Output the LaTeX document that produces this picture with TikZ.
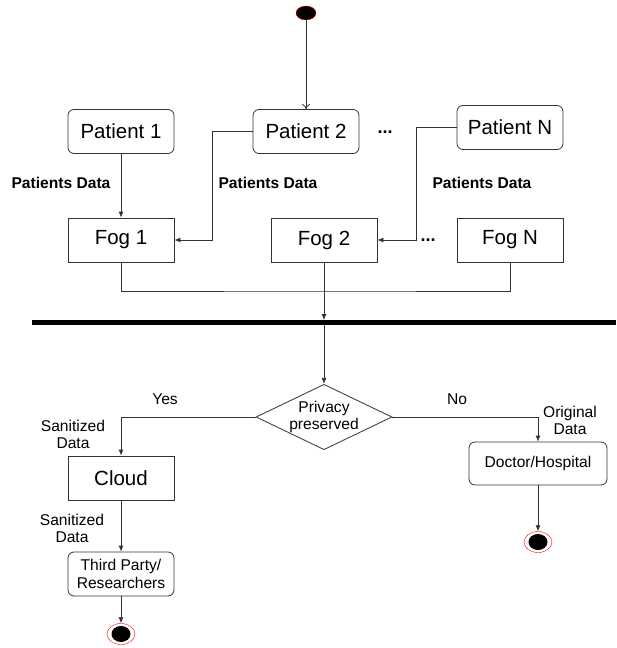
\documentclass[tikz,border=0pt]{standalone}
\usepackage{fontspec}
\setmainfont{Liberation Sans}
\usetikzlibrary{arrows.meta,shapes.geometric,calc}
\definecolor{linegray}{HTML}{333333}
\begin{document}
\begin{tikzpicture}[x=1pt,y=-1pt,
	box/.style={rectangle,draw=linegray,line width=0.8pt,minimum width=106pt,minimum height=44pt,inner sep=2pt,
		align=center,font=\fontsize{20.5}{24}\selectfont},
	rbox/.style={box,rounded corners=6pt},
	sbox/.style={rbox,font=\fontsize{15.6}{18.5}\selectfont},
	lbl/.style={align=center,inner sep=0pt,font=\fontsize{15.6}{17}\selectfont},
	blbl/.style={lbl,font=\fontsize{15.6}{17}\selectfont\bfseries},
	startstate/.style={ellipse,draw=red,fill=black,minimum width=20pt,minimum height=14pt,inner sep=0pt},
	endstate/.style={ellipse,draw=red,fill=white,minimum width=28pt,minimum height=21pt,inner sep=0pt,
		path picture={\fill[black] (path picture bounding box.center) ellipse (9.5pt and 8pt);}},
	flow/.style={draw=linegray,line width=0.8pt,-{Latex[length=6pt,width=5pt]}},
	line/.style={draw=linegray,line width=0.8pt}]
\useasboundingbox (0,0) rectangle (616,648);
\node[startstate] (start) at (306,13) {};
\node[rbox] (p1) at (121,131.5) {Patient 1};
\node[rbox] (p2) at (306,131.5) {Patient 2};
\node[rbox] (pN) at (510,127.5) {Patient N};
\node[blbl,font=\fontsize{18}{20}\selectfont\bfseries] (dotsP) at (385,132) {...};
\node[box] (fog1) at (121,240) {Fog 1};
\node[box] (fog2) at (324,240) {Fog 2};
\node[box] (fogN) at (510,240) {Fog N};
\node[blbl,font=\fontsize{18}{20}\selectfont\bfseries] (dotsF) at (428,240) {...};
\node[blbl] (pd1) at (61,183) {Patients Data};
\node[blbl] (pd2) at (268,183) {Patients Data};
\node[blbl] (pd3) at (482,183) {Patients Data};
\coordinate (join) at (324,291);
\node[rectangle,fill=black,minimum width=584pt,minimum height=4.5pt,inner sep=0pt] (fork) at (324,322.5) {};
\node[diamond,draw=linegray,line width=0.8pt,aspect=2.05,inner sep=0pt,minimum width=136pt,minimum height=65pt,
	lbl] (priv) at (324,417) {Privacy\\preserved};
\node[lbl] (yes) at (165,399) {Yes};
\node[lbl] (no) at (457,399) {No};
\node[box] (cloud) at (121,478) {Cloud};
\node[lbl] (sd1) at (73,434) {Sanitized\\Data};
\node[lbl] (sd2) at (72,528) {Sanitized\\Data};
\node[sbox] (third) at (121,574) {Third Party/\\Researchers};
\node[endstate] (end1) at (121,634) {};
\node[lbl] (od) at (570,420) {Original\\Data};
\node[sbox,minimum width=138pt,minimum height=43pt] (doc) at (538,463.5) {Doctor/Hospital};
\node[endstate] (end2) at (538,542) {};
\draw[line,-{To[length=5pt,width=8pt]}] (start) -- (p2);
\draw[flow] (p1) -- (fog1);
\draw[flow] (p2.west) -- ++(-40,0) |- (fog1.east);
\draw[flow] (pN.west) -- ++(-40,0) |- (fog2.east);
\draw[line] (fog1.south) |- (join) -| (fogN.south);
\draw[flow] (fog2.south) -- (fork.north);
\draw[flow] (fork.south) -- (priv.north);
\draw[flow] (priv.west) -| (cloud.north);
\draw[flow] (priv.east) -| (doc.north);
\draw[flow] (cloud) -- (third);
\draw[flow] (third) -- (end1);
\draw[flow] (doc) -- (end2);
\end{tikzpicture}
\end{document}
